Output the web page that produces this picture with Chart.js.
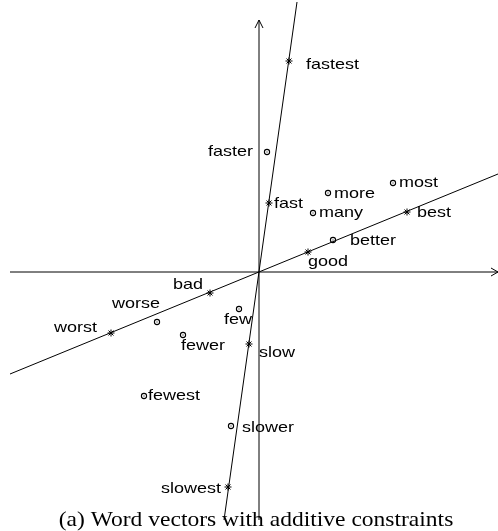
<!DOCTYPE html>
<html>
<head>
<meta charset="utf-8">
<script src="https://cdn.jsdelivr.net/npm/chart.js@4/dist/chart.umd.min.js"></script>
<style>
  html, body { margin: 0; padding: 0; background: #fff; }
  #wrap { width: 498px; height: 531px; position: relative; }
</style>
</head>
<body>
<div id="wrap"><canvas id="c" width="498" height="531"></canvas></div>
<script>
// Words lying on the two constraint directions (drawn with '*')
const anchorWords = ['fastest', 'fast', 'slow', 'slowest', 'worst', 'bad', 'good', 'best'];
const anchorX = [0.30, 0.10, -0.10, -0.31, -1.48, -0.49, 0.49, 1.48];
const anchorY = [2.11, 0.69, -0.72, -2.15, -0.61, -0.21, 0.20, 0.60];

// Remaining words (drawn with small circles)
const otherWords = ['faster', 'more', 'most', 'many', 'better', 'worse', 'fewer', 'few', 'fewest', 'slower'];
const otherX = [0.08, 0.69, 1.34, 0.54, 0.74, -1.02, -0.76, -0.20, -1.15, -0.28];
const otherY = [1.20, 0.79, 0.89, 0.59, 0.32, -0.50, -0.63, -0.37, -1.24, -1.54];

// Constraint directions through the origin
const speedLineX = [0.38, -0.35];
const speedLineY = [2.70, -2.48];
const qualityLineX = [-2.49, 2.39];
const qualityLineY = [-1.02, 0.98];

// Coordinate axes (arrow at the second end)
const hAxisX = [-2.49, 2.39];
const vAxisY = [-2.48, 2.52];

const caption = '(a) Word vectors with additive constraints';

// Label placement around each marker: pixel offset and alignment
const anchorDx = [17, 5, 10, -7, -14, -7, 0, 10];
const anchorDy = [8, 4.5, 13, 6, -1, -4, 14, 5];
const anchorAlign = ['left', 'left', 'left', 'right', 'right', 'right', 'left', 'left'];
const otherDx = [-14, 6, 6, 6, 17, 3, -2, -1, 4, 11];
const otherDy = [4, 5, 4, 4, 5, -14, 15, 15, 4, 6];
const otherAlign = ['right', 'left', 'left', 'left', 'left', 'right', 'left', 'center', 'left', 'left'];

const pts = (xs, ys) => xs.map((x, i) => ({ x: x, y: ys[i] }));

// Small circle with a centre dot
function ringMarker() {
  const cv = document.createElement('canvas');
  cv.width = 8; cv.height = 8;
  const g = cv.getContext('2d');
  g.strokeStyle = '#000';
  g.lineWidth = 1.1;
  g.beginPath();
  g.arc(4, 4, 2.6, 0, Math.PI * 2);
  g.stroke();
  g.fillStyle = '#000';
  g.fillRect(3.5, 3.5, 1, 1);
  return cv;
}

const lineDs = (data) => ({
  data: data, showLine: true, borderColor: '#000', borderWidth: 1,
  pointRadius: 0, pointHoverRadius: 0, fill: false, clip: false, tension: 0
});

const textPlugin = {
  id: 'wordLabels',
  afterDatasetsDraw(chart) {
    const ctx = chart.ctx;
    const xs = chart.scales.x, ys = chart.scales.y;

    // open arrow heads on the two axes
    ctx.save();
    ctx.strokeStyle = '#000';
    ctx.lineWidth = 1;
    const hx = xs.getPixelForValue(hAxisX[1]), hy = ys.getPixelForValue(0);
    ctx.beginPath();
    ctx.moveTo(hx - 7, hy - 4); ctx.lineTo(hx, hy); ctx.lineTo(hx - 7, hy + 4);
    ctx.stroke();
    const vx = xs.getPixelForValue(0), vy = ys.getPixelForValue(vAxisY[1]);
    ctx.beginPath();
    ctx.moveTo(vx - 4, vy + 8); ctx.lineTo(vx, vy); ctx.lineTo(vx + 4, vy + 8);
    ctx.stroke();
    ctx.restore();

    const drawSet = (dsIndex, words, dx, dy, align) => {
      const meta = chart.getDatasetMeta(dsIndex);
      meta.data.forEach((el, i) => {
        ctx.save();
        ctx.translate(el.x + dx[i], el.y + dy[i]);
        ctx.scale(1.2, 1);
        ctx.font = '15px "Liberation Sans", Arial, sans-serif';
        ctx.fillStyle = '#000';
        ctx.textAlign = align[i];
        ctx.textBaseline = 'alphabetic';
        ctx.fillText(words[i], 0, 0);
        ctx.restore();
      });
    };
    drawSet(4, anchorWords, anchorDx, anchorDy, anchorAlign);
    drawSet(5, otherWords, otherDx, otherDy, otherAlign);

    ctx.save();
    ctx.translate(256, 526);
    ctx.scale(1.12, 1);
    ctx.font = '21px "Liberation Serif", "Times New Roman", serif';
    ctx.fillStyle = '#000';
    ctx.textAlign = 'center';
    ctx.textBaseline = 'alphabetic';
    ctx.fillText(caption, 0, 0);
    ctx.restore();
  }
};

new Chart(document.getElementById('c'), {
  type: 'scatter',
  data: {
    datasets: [
      lineDs(pts(hAxisX, [0, 0])),
      lineDs(pts([0, 0], vAxisY)),
      lineDs(pts(speedLineX, speedLineY)),
      lineDs(pts(qualityLineX, qualityLineY)),
      {
        data: pts(anchorX, anchorY), pointStyle: 'star', pointRadius: 3.5, pointHoverRadius: 3.5,
        borderColor: '#000', borderWidth: 1, backgroundColor: '#000', clip: false
      },
      {
        data: pts(otherX, otherY), pointStyle: ringMarker(), pointRadius: 3, pointHoverRadius: 3,
        borderColor: '#000', backgroundColor: '#000', clip: false
      }
    ]
  },
  options: {
    responsive: false,
    animation: false,
    events: [],
    layout: { padding: 0, autoPadding: false },
    plugins: { legend: { display: false }, tooltip: { enabled: false }, title: { display: false } },
    scales: {
      x: { type: 'linear', min: -2.59, max: 2.39, display: false },
      y: { type: 'linear', min: -2.59, max: 2.72, display: false }
    }
  },
  plugins: [textPlugin]
});
</script>
</body>
</html>
